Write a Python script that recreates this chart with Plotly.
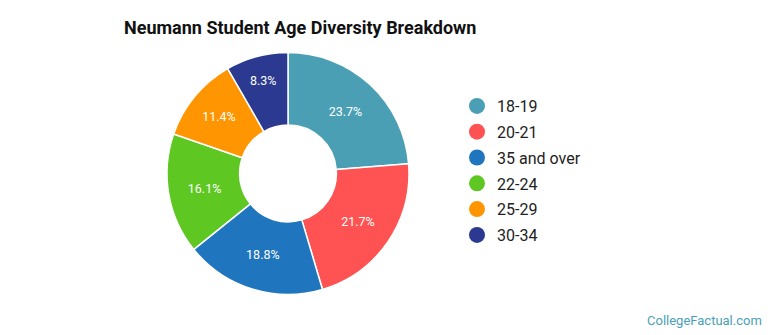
import plotly.graph_objects as go

labels = ["18-19", "20-21", "35 and over", "22-24", "25-29", "30-34"]
values = [23.7, 21.7, 18.8, 16.1, 11.4, 8.3]
colors = ["#4a9fb5", "#ff5252", "#1f75be", "#5ec722", "#ff9500", "#2b3990"]

W, H = 770, 335
fig = go.Figure()
fig.add_trace(go.Pie(
    labels=labels, values=values, sort=False, direction="clockwise", rotation=0,
    hole=0.4,
    marker=dict(colors=colors, line=dict(color="white", width=1.5)),
    texttemplate="%{value:.1f}%", textposition="inside",
    insidetextorientation="horizontal",
    textfont=dict(color="white", size=12.5, family="Roboto"),
    showlegend=False, hoverinfo="label+percent",
    domain=dict(x=[167 / W, 409 / W], y=[1 - 295 / H, 1 - 52 / H]),
))
for lab, col in zip(labels, colors):
    fig.add_trace(go.Scatter(
        x=[None], y=[None], mode="markers", name=lab, legendgroup=lab,
        marker=dict(symbol="circle", size=16, color=col),
    ))

fig.update_layout(
    width=W, height=H,
    margin=dict(l=0, r=0, t=0, b=0),
    paper_bgcolor="white", plot_bgcolor="white",
    font=dict(family="Roboto", color="#222222"),
    title=dict(text="<b>Neumann Student Age Diversity Breakdown</b>",
               x=124 / W, xanchor="left", y=1 - 28 / H, yanchor="middle",
               font=dict(size=18, color="#111111", family="Roboto")),
    xaxis=dict(visible=False), yaxis=dict(visible=False),
    legend=dict(x=457 / W, y=1 - 89 / H, xanchor="left", yanchor="top",
                font=dict(size=16, color="#222222", family="Roboto"),
                itemwidth=30, tracegroupgap=2, bgcolor="rgba(0,0,0,0)"),
    annotations=[dict(text="CollegeFactual.com", x=1 - 6 / W, y=15 / H,
                      xref="paper", yref="paper", xanchor="right", yanchor="middle",
                      showarrow=False,
                      font=dict(size=13, color="#4a9fb5", family="Roboto"))],
)
fig.write_html("out.html")
